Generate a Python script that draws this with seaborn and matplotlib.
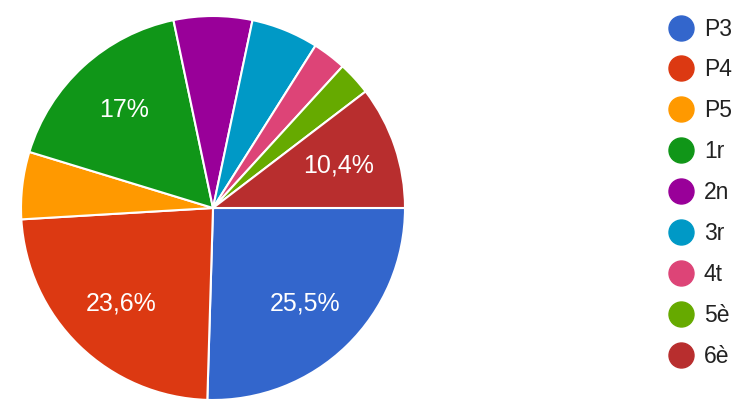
import matplotlib
matplotlib.use("Agg")
import matplotlib.pyplot as plt
import seaborn as sns
from matplotlib.lines import Line2D

# responses per course (Google Forms style pie)
labels = ['P3', 'P4', 'P5', '1r', '2n', '3r', '4t', '5è', '6è']
counts = [27, 25, 6, 18, 7, 6, 3, 3, 11]
colors = ['#3366cc', '#dc3912', '#ff9900', '#109618', '#990099',
          '#0099c6', '#dd4477', '#66aa00', '#b82e2e']

sns.set_style('white')
plt.rcParams['font.family'] = ['Liberation Sans', 'DejaVu Sans']
palette = sns.color_palette(colors)


def fmt_pct(p):
    # only big slices get a label, with a decimal comma
    if p < 10:
        return ''
    r = round(p, 1)
    if r == int(r):
        return f'{int(r)}%'
    return f'{r:.1f}%'.replace('.', ',')


fig = plt.figure(figsize=(7.49, 4.12), dpi=100)
W, H = 749, 412
ax = fig.add_axes([21 / W, (H - 400) / H, 384 / W, 384 / H])

wedges, texts, autotexts = ax.pie(
    counts,
    colors=palette,
    startangle=0,
    counterclock=False,
    autopct=fmt_pct,
    pctdistance=0.69,
    wedgeprops={'edgecolor': 'white', 'linewidth': 1.5},
    textprops={'color': 'white', 'fontsize': 18},
)
ax.set_xlim(-1, 1)
ax.set_ylim(-1, 1)
ax.set_aspect('equal')

handles = [Line2D([0], [0], marker='o', color='w', markerfacecolor=c,
                  markeredgecolor=c, markersize=18)
           for c in colors]
fig.legend(handles, labels, loc='upper left',
           bbox_to_anchor=(649 / W, 1 + 3 / H),
           frameon=False, fontsize=16.5, labelspacing=0.78,
           handlelength=1.0, handletextpad=0.5, labelcolor='#222222')

fig.savefig('out.png', dpi=100)
